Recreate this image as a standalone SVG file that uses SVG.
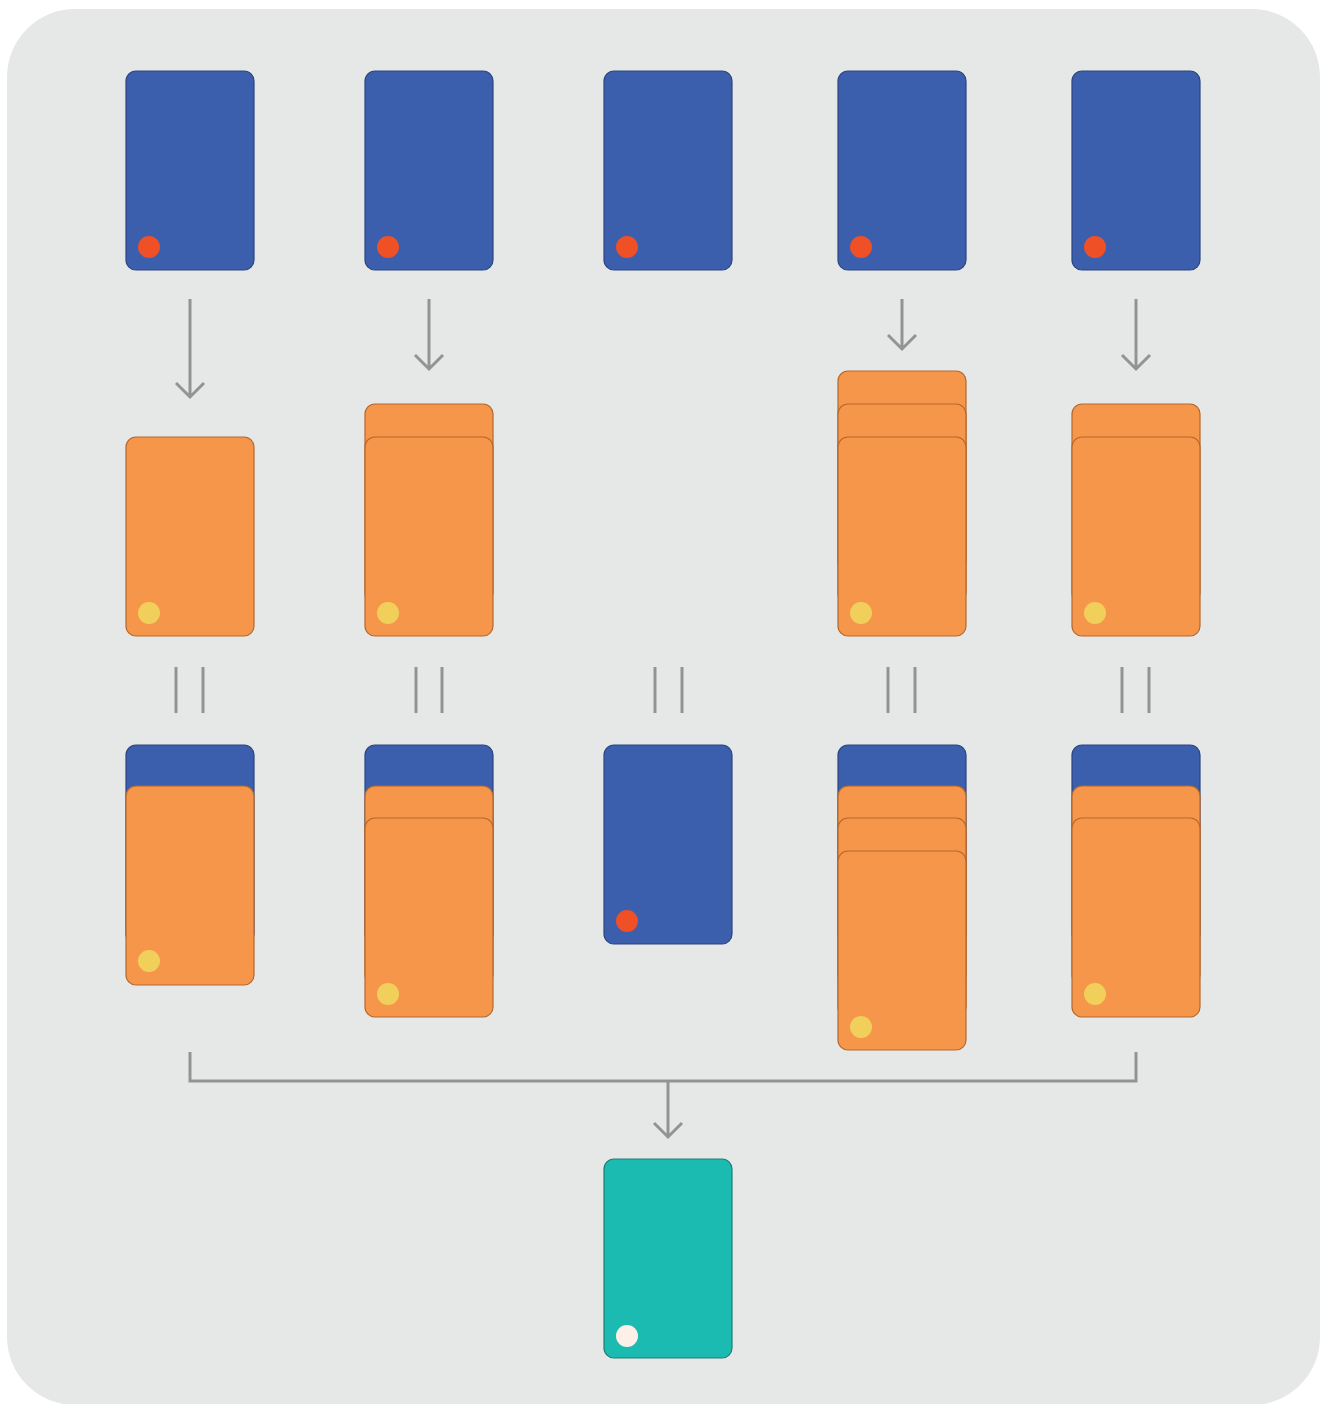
<svg xmlns="http://www.w3.org/2000/svg" width="1322" height="1404" viewBox="0 0 1322 1404">
<style>
.bg{fill:#E6E8E7}
.blue{fill:#3B5FAD;stroke:#2C4581;stroke-width:1.2}
.orange{fill:#F6964A;stroke:#B5682E;stroke-width:1.2}
.teal{fill:#1BBBB2;stroke:#1F7E76;stroke-width:1.2}
.red{fill:#F05025}
.yellow{fill:#F1CF5B}
.cream{fill:#FDF0E8}
.conn{stroke:#939393;stroke-width:3;fill:none}
</style>
<defs>
<rect id="card" x="0" y="0" width="128" height="199" rx="10"/>
</defs>
<rect class="bg" x="7" y="9" width="1313" height="1396" rx="68"/>
<g id="connectors">
<path class="conn" d="M190 299V397M176 383L190 397L204 383"/>
<path class="conn" d="M429 299V369M415 355L429 369L443 355"/>
<path class="conn" d="M902 299V349M888 335L902 349L916 335"/>
<path class="conn" d="M1136 299V369M1122 355L1136 369L1150 355"/>
<path class="conn" d="M176 667V713M203 667V713"/>
<path class="conn" d="M416 667V713M442 667V713"/>
<path class="conn" d="M655 667V713M682 667V713"/>
<path class="conn" d="M888 667V713M915 667V713"/>
<path class="conn" d="M1122 667V713M1149 667V713"/>
<path class="conn" d="M190 1052V1081H1136V1052M668 1081V1137M654 1123L668 1137L682 1123"/>
</g>
<g id="top1"><use href="#card" class="blue" x="126" y="71"/><circle class="red" cx="149" cy="247" r="11"/></g>
<g id="top2"><use href="#card" class="blue" x="365" y="71"/><circle class="red" cx="388" cy="247" r="11"/></g>
<g id="top3"><use href="#card" class="blue" x="604" y="71"/><circle class="red" cx="627" cy="247" r="11"/></g>
<g id="top4"><use href="#card" class="blue" x="838" y="71"/><circle class="red" cx="861" cy="247" r="11"/></g>
<g id="top5"><use href="#card" class="blue" x="1072" y="71"/><circle class="red" cx="1095" cy="247" r="11"/></g>
<g id="mid1"><use href="#card" class="orange" x="126" y="437"/><circle class="yellow" cx="149" cy="613" r="11"/></g>
<g id="mid2"><use href="#card" class="orange" x="365" y="404"/><use href="#card" class="orange" x="365" y="437"/><circle class="yellow" cx="388" cy="613" r="11"/></g>
<g id="mid4"><use href="#card" class="orange" x="838" y="371"/><use href="#card" class="orange" x="838" y="404"/><use href="#card" class="orange" x="838" y="437"/><circle class="yellow" cx="861" cy="613" r="11"/></g>
<g id="mid5"><use href="#card" class="orange" x="1072" y="404"/><use href="#card" class="orange" x="1072" y="437"/><circle class="yellow" cx="1095" cy="613" r="11"/></g>
<g id="bot1"><use href="#card" class="blue" x="126" y="745"/><use href="#card" class="orange" x="126" y="786"/><circle class="yellow" cx="149" cy="961" r="11"/></g>
<g id="bot2"><use href="#card" class="blue" x="365" y="745"/><use href="#card" class="orange" x="365" y="786"/><use href="#card" class="orange" x="365" y="818"/><circle class="yellow" cx="388" cy="994" r="11"/></g>
<g id="bot3"><use href="#card" class="blue" x="604" y="745"/><circle class="red" cx="627" cy="921" r="11"/></g>
<g id="bot4"><use href="#card" class="blue" x="838" y="745"/><use href="#card" class="orange" x="838" y="786"/><use href="#card" class="orange" x="838" y="818"/><use href="#card" class="orange" x="838" y="851"/><circle class="yellow" cx="861" cy="1027" r="11"/></g>
<g id="bot5"><use href="#card" class="blue" x="1072" y="745"/><use href="#card" class="orange" x="1072" y="786"/><use href="#card" class="orange" x="1072" y="818"/><circle class="yellow" cx="1095" cy="994" r="11"/></g>
<g id="result"><use href="#card" class="teal" x="604" y="1159"/><circle class="cream" cx="627" cy="1336" r="11"/></g>
</svg>
